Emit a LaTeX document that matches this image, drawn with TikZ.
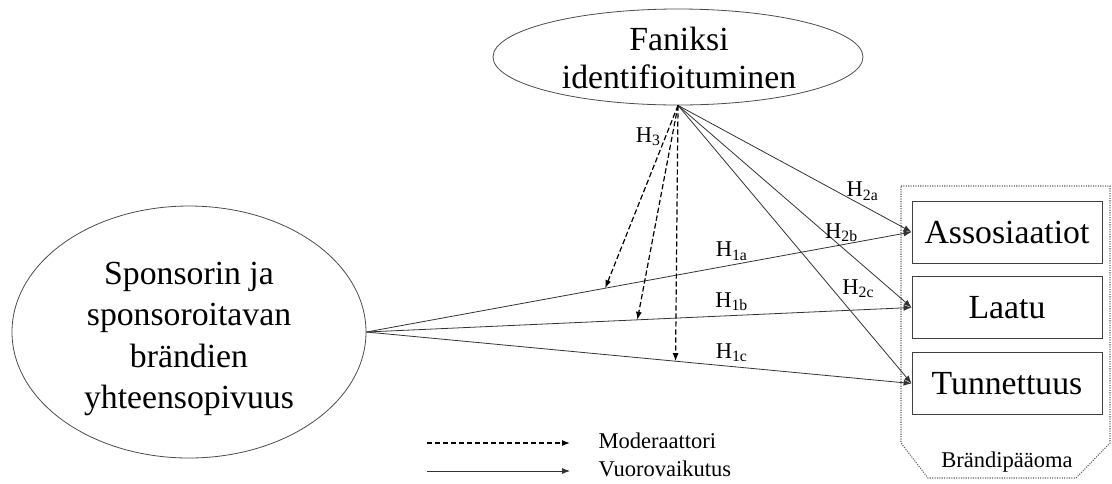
\documentclass[tikz,border=0pt]{standalone}
\usepackage{fontspec}
\setmainfont{Liberation Serif}
\usetikzlibrary{arrows.meta,shapes.geometric}

\begin{document}
\begin{tikzpicture}[x=0.75pt,y=-0.75pt,
    >={Latex[length=6pt,width=4.5pt]},
    every node/.style={font=\fontsize{16.9}{20}\selectfont},
    bigtext/.style={font=\fontsize{25.3}{31}\selectfont, align=center},
    oval/.style={draw=black!70, ellipse, inner sep=0pt, line width=0.6pt},
    brandbox/.style={draw=black!75, line width=0.6pt, minimum width=142.5pt,
        minimum height=46.5pt, font=\fontsize{25.3}{31}\selectfont},
    link/.style={->, draw=black!80, line width=0.6pt},
    moder/.style={->, draw=black, line width=0.9pt, dash pattern=on 4pt off 2pt}]

    \useasboundingbox (0,0) rectangle (1112,483);

    \node[oval, minimum width=277.5pt, minimum height=72pt] at (678,57) (fan) {};
    \node[bigtext, font=\fontsize{25.3}{29}\selectfont] at (679,58) (fantext)
        {Faniksi\\identifioituminen};
    \node[oval, minimum width=265.5pt, minimum height=189pt] at (189,332) (spons) {};
    \node[bigtext] at (189,339) (sponstext)
        {Sponsorin ja\\sponsoroitavan\\brändien\\yhteensopivuus};

    \node[brandbox] at (1007,232) (assos) {Assosiaatiot};
    \node[brandbox] at (1007,307.5) (laatu) {Laatu};
    \node[brandbox] at (1007,383.5) (tunn) {Tunnettuus};

    \draw[black!65, densely dotted, line width=0.8pt]
        (901,186) -- (1110,186) -- (1110,443) -- (1076,478) -- (928,478) -- (901,443) -- cycle;
    \node at (1007,462) (equity) {Brändipääoma};

    \draw[link] (spons.east) -- node[pos=0.67, above] (h1a) {H\textsubscript{1a}}
        coordinate[pos=0.438] (m1) (assos.west);
    \draw[link] (spons.east) -- node[pos=0.67, above] (h1b) {H\textsubscript{1b}}
        coordinate[pos=0.497] (m2) (laatu.west);
    \draw[link] (spons.east) -- node[pos=0.67, above] (h1c) {H\textsubscript{1c}}
        coordinate[pos=0.567] (m3) (tunn.west);

    \draw[link] (fan.south) -- node[pos=0.79, above] (h2a) {H\textsubscript{2a}} (assos.west);
    \draw[link] (fan.south) -- node[pos=0.7, above] (h2b) {H\textsubscript{2b}} (laatu.west);
    \draw[link] (fan.south) -- node[pos=0.66, right, xshift=4pt] (h2c) {H\textsubscript{2c}} (tunn.west);

    \draw[moder] (fan.south) -- node[pos=0.17, left] (h3) {H\textsubscript{3}} (m1);
    \draw[moder] (fan.south) -- (m2);
    \draw[moder] (fan.south) -- (m3);

    \coordinate (ms) at (427,443);
    \coordinate (me) at (570,443);
    \coordinate (vs) at (427,471);
    \coordinate (ve) at (570,471);
    \draw[moder] (ms) -- (me);
    \draw[link] (vs) -- (ve);
    \node[anchor=west, inner sep=1pt] at (597,441) (modtext) {Moderaattori};
    \node[anchor=west, inner sep=1pt] at (597,469) (vuotext) {Vuorovaikutus};
\end{tikzpicture}
\end{document}
